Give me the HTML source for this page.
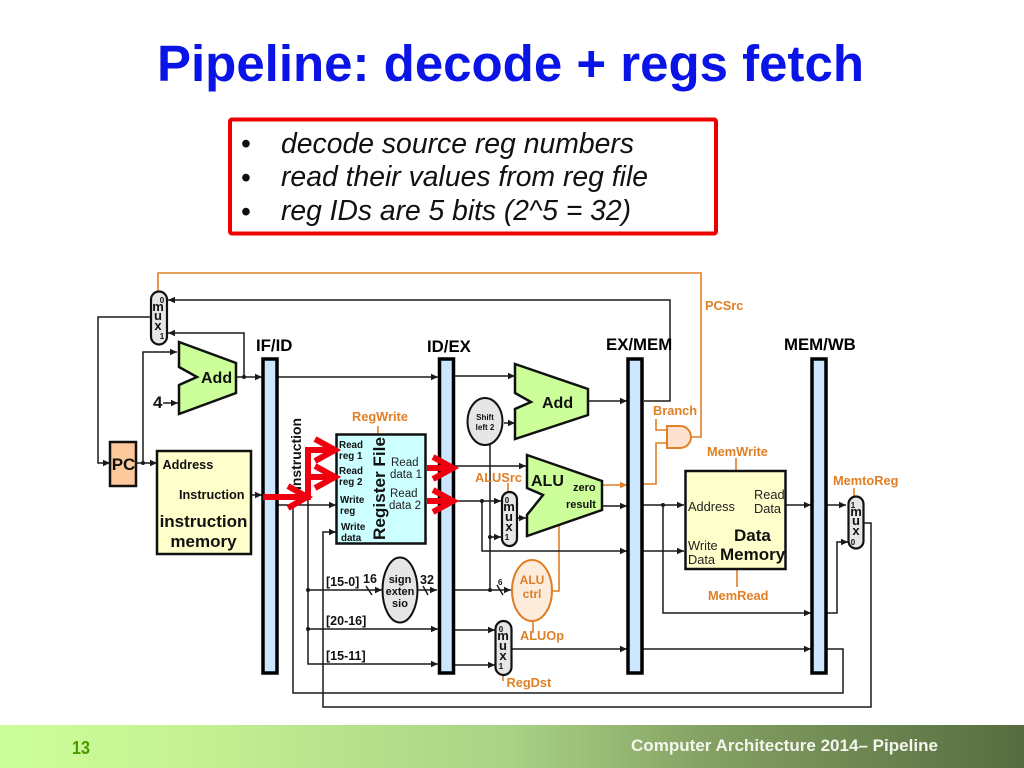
<!DOCTYPE html>
<html><head><meta charset="utf-8"><title>Pipeline: decode + regs fetch</title>
<style>
html,body{margin:0;padding:0;background:#fff}
svg{display:block}
text{font-family:"Liberation Sans",sans-serif}
.b{font-weight:bold}
.k{fill:none;stroke:#1a1a1a;stroke-width:1.5}
.o{fill:none;stroke:#e07f25;stroke-width:1.6}
.ol{fill:#e07f25;font-weight:bold;font-size:12.8px}
.bar{fill:#cce6ff;stroke:#000;stroke-width:3.5}
.box{stroke:#111;stroke-width:2.5}
.red{fill:none;stroke:#f0000e;stroke-width:6}
</style></head>
<body>
<svg width="1024" height="768" viewBox="0 0 1024 768" xmlns="http://www.w3.org/2000/svg">
<defs>
<marker id="a" markerUnits="userSpaceOnUse" markerWidth="8" markerHeight="8" refX="7" refY="4" orient="auto"><path d="M0,0.8L7,4L0,7.2z" fill="#1a1a1a"/></marker>
<marker id="ao" markerUnits="userSpaceOnUse" markerWidth="8" markerHeight="8" refX="7" refY="4" orient="auto"><path d="M0,0.8L7,4L0,7.2z" fill="#e07f25"/></marker>
<linearGradient id="g" x1="0" x2="1" y1="0" y2="0"><stop offset="0" stop-color="#ccff99"/><stop offset=".2" stop-color="#c4f092"/><stop offset=".5" stop-color="#a9d285"/><stop offset=".7" stop-color="#839f62"/><stop offset="1" stop-color="#566c40"/></linearGradient>
</defs>
<rect width="1024" height="768" fill="#fff"/>

<!-- title -->
<text x="157" y="81" class="b" font-size="51" fill="#0a14e6" textLength="707" lengthAdjust="spacingAndGlyphs">Pipeline: decode + regs fetch</text>

<!-- callout -->
<rect x="230" y="119.500" width="486" height="114" fill="#fff" stroke="#ee0000" stroke-width="4" rx="2"/>
<g font-size="28.3" fill="#111">
<text x="241" y="153">•</text><text x="241" y="187">•</text><text x="241" y="221">•</text>
<g font-style="italic">
<text x="281" y="153" textLength="353" lengthAdjust="spacingAndGlyphs">decode source reg numbers</text>
<text x="281" y="186" textLength="367" lengthAdjust="spacingAndGlyphs">read their values from reg file</text>
<text x="281" y="220" textLength="350" lengthAdjust="spacingAndGlyphs">reg IDs are 5 bits (2^5 = 32)</text>
</g></g>

<!-- orange control lines -->
<path class="o" d="M158,291V273H701V437H692"/>
<path class="o" d="M643,484H656V443H667M656,419V430H667"/>
<path class="o" d="M736,458V471M737,569V587M854,488V496M508,483V492M533,621V633M503,675V681M378,426V434"/>
<path class="o" d="M552,591H559V522"/>
<path class="o" d="M602,485H627" marker-end="url(#ao)"/>

<!-- black wires -->
<g class="k">
<path d="M644,401H670V300H168" marker-end="url(#a)"/>
<path d="M150,317H98V463H110" marker-end="url(#a)"/>
<path d="M244,377V333H168" marker-end="url(#a)"/>
<path d="M236,377H262" marker-end="url(#a)"/>
<path d="M278,377H438" marker-end="url(#a)"/>
<path d="M136,463H157" marker-end="url(#a)"/>
<path d="M143,463V352H177" marker-end="url(#a)"/>
<path d="M163,403H178" marker-end="url(#a)"/>
<path d="M251,495H262" marker-end="url(#a)"/>
<path d="M278,505H336" marker-end="url(#a)"/>
<path d="M293,505V693H843V649H827"/>
<path d="M308,497V664H438" marker-end="url(#a)"/>
<path d="M308,590H382" marker-end="url(#a)"/>
<path d="M308,629H438" marker-end="url(#a)"/>
<path d="M864,523H871V707H323V532H336" marker-end="url(#a)"/>
<path d="M418,590H437" marker-end="url(#a)"/>
<path d="M455,376H515" marker-end="url(#a)"/>
<path d="M504,423H515" marker-end="url(#a)"/>
<path d="M588,401H627" marker-end="url(#a)"/>
<path d="M455,466H526" marker-end="url(#a)"/>
<path d="M455,501H501" marker-end="url(#a)"/>
<path d="M482,501V551H627" marker-end="url(#a)"/>
<path d="M490,445V590"/>
<path d="M490,537H501" marker-end="url(#a)"/>
<path d="M517,518H526" marker-end="url(#a)"/>
<path d="M602,506H627" marker-end="url(#a)"/>
<path d="M455,590H511" marker-end="url(#a)"/>
<path d="M455,630H495" marker-end="url(#a)"/>
<path d="M455,665H495" marker-end="url(#a)"/>
<path d="M512,649H627" marker-end="url(#a)"/>
<path d="M643,505H684" marker-end="url(#a)"/>
<path d="M643,551H684" marker-end="url(#a)"/>
<path d="M663,505V613H811" marker-end="url(#a)"/>
<path d="M786,505H811" marker-end="url(#a)"/>
<path d="M643,649H811" marker-end="url(#a)"/>
<path d="M827,505H846" marker-end="url(#a)"/>
<path d="M827,613H837V542H848" marker-end="url(#a)"/>
<path d="M366,586L372,595M423,586L428,595M497,585L503,595"/>
</g>
<g fill="#1a1a1a">
<circle cx="244" cy="377" r="2"/><circle cx="143" cy="463" r="2"/><circle cx="308" cy="497" r="2"/>
<circle cx="308" cy="590" r="2"/><circle cx="308" cy="629" r="2"/><circle cx="482" cy="501" r="2"/>
<circle cx="490" cy="537" r="2"/><circle cx="490" cy="590" r="2"/><circle cx="663" cy="505" r="2"/>
</g>

<!-- pipeline bars -->
<rect class="bar" x="263" y="359" width="14" height="314"/>
<rect class="bar" x="439.500" y="359" width="14" height="314"/>
<rect class="bar" x="628" y="359" width="14" height="314"/>
<rect class="bar" x="812" y="359" width="14" height="314"/>
<g class="b" font-size="16.8" fill="#000">
<text x="256" y="351">IF/ID</text>
<text x="427" y="352">ID/EX</text>
<text x="606" y="350">EX/MEM</text>
<text x="784" y="350">MEM/WB</text>
</g>

<!-- PC mux -->
<rect x="151" y="291.500" width="16" height="53" rx="8" fill="#e6e6e6" stroke="#111" stroke-width="2.2"/>
<g class="b" fill="#111" text-anchor="middle">
<text x="162" y="303" font-size="8">0</text>
<text x="158" y="311" font-size="13">m</text>
<text x="158" y="320" font-size="13">u</text>
<text x="158" y="330" font-size="13">x</text>
<text x="162" y="339" font-size="8">1</text>
</g>

<!-- PC -->
<rect class="box" x="110" y="442" width="26" height="44" fill="#fcc99c"/>
<text x="123.500" y="470" text-anchor="middle" class="b" font-size="17" fill="#111">PC</text>

<!-- Add 1 -->
<path class="box" fill="#ccff99" d="M179,342L236,363V393L179,414V385L197,377L179,367Z"/>
<text x="201" y="383" class="b" font-size="16" fill="#111">Add</text>
<text x="153" y="408" class="b" font-size="17" fill="#111">4</text>

<!-- Instruction memory -->
<rect class="box" x="157" y="451" width="94" height="103" fill="#ffffcc"/>
<g class="b" fill="#111">
<text x="162.500" y="469" font-size="12.7">Address</text>
<text x="179" y="499" font-size="12.7">Instruction</text>
<text x="203.500" y="527" font-size="17" text-anchor="middle">instruction</text>
<text x="203.500" y="547" font-size="17" text-anchor="middle">memory</text>
</g>

<!-- Instruction vertical -->
<text transform="translate(301,490) rotate(-90)" class="b" font-size="14" fill="#111" textLength="72" lengthAdjust="spacingAndGlyphs">Instruction</text>

<!-- Register file -->
<rect class="box" x="336.500" y="434.500" width="89" height="109" fill="#ccffff"/>
<g class="b" fill="#111" font-size="9.800">
<text x="339" y="448">Read</text><text x="339" y="459">reg 1</text>
<text x="339" y="474">Read</text><text x="339" y="485">reg 2</text>
<text x="340" y="503">Write</text><text x="340" y="514">reg</text>
<text x="341" y="530">Write</text><text x="341" y="541">data</text>
</g>
<text transform="translate(385,540) rotate(-90)" class="b" font-size="17" fill="#111" textLength="103" lengthAdjust="spacingAndGlyphs">Register File</text>
<g font-size="11.500" fill="#222">
<text x="391" y="466">Read</text><text x="390" y="478">data 1</text>
<text x="390" y="497">Read</text><text x="389" y="509">data 2</text>
</g>
<text x="352" y="421" class="ol">RegWrite</text>

<!-- red arrows -->
<g class="red">
<path d="M263,497H305M288,486L307,497L288,508"/>
<path d="M308,500V450H334M315,439L335,450L315,461"/>
<path d="M308,477H334M315,466L335,477L315,488"/>
<path d="M427,468H451M433,457L453,468L433,479"/>
<path d="M427,501H451M433,490L453,501L433,512"/>
</g>

<!-- Shift left 2 -->
<ellipse cx="485" cy="421.500" rx="17.500" ry="23.500" fill="#e6e6e6" stroke="#111" stroke-width="2"/>
<g class="b" font-size="8" fill="#111" text-anchor="middle">
<text x="485" y="420">Shift</text><text x="485" y="430">left 2</text>
</g>

<!-- Add 2 -->
<path class="box" fill="#ccff99" d="M515,364L588,389V415L515,439V409L531,402L515,393Z"/>
<text x="542" y="408" class="b" font-size="16" fill="#111">Add</text>

<!-- ALU -->
<path class="box" fill="#ccff99" d="M527,455L602,481V510L527,536V515L543,495L527,488Z"/>
<text x="531" y="486" class="b" font-size="16" fill="#111">ALU</text>
<g class="b" font-size="11" fill="#111">
<text x="573" y="491">zero</text><text x="566" y="508">result</text>
</g>
<text x="475" y="482" class="ol">ALUSrc</text>

<!-- ALUSrc mux -->
<rect x="502" y="492" width="15" height="54" rx="7.500" fill="#e6e6e6" stroke="#111" stroke-width="2.2"/>
<g class="b" fill="#111" text-anchor="middle">
<text x="507" y="503" font-size="8">0</text>
<text x="509" y="511" font-size="13">m</text>
<text x="509" y="521" font-size="13">u</text>
<text x="509" y="531" font-size="13">x</text>
<text x="507" y="540" font-size="8">1</text>
</g>

<!-- sign extension -->
<ellipse cx="400" cy="590" rx="17.500" ry="32.500" fill="#e6e6e6" stroke="#111" stroke-width="2"/>
<g class="b" font-size="11" fill="#111" text-anchor="middle">
<text x="400" y="583">sign</text><text x="400" y="595">exten</text><text x="400" y="607">sio</text>
</g>
<g class="b" fill="#111" font-size="12.500">
<text x="326" y="586">[15-0]</text>
<text x="363" y="583">16</text>
<text x="420" y="584">32</text>
<text x="326" y="625">[20-16]</text>
<text x="326" y="660">[15-11]</text>
<text x="498" y="585" font-size="8">6</text>
</g>

<!-- ALU ctrl -->
<ellipse cx="532" cy="590.500" rx="20" ry="30.500" fill="#fdebdc" stroke="#e07f25" stroke-width="2"/>
<g class="ol" text-anchor="middle" style="font-size:12px">
<text x="532" y="584">ALU</text><text x="532" y="598">ctrl</text>
</g>
<text x="520" y="640" class="ol">ALUOp</text>

<!-- RegDst mux -->
<rect x="495.500" y="621" width="16" height="54" rx="8" fill="#e6e6e6" stroke="#111" stroke-width="2.2"/>
<g class="b" fill="#111" text-anchor="middle">
<text x="501" y="632" font-size="8">0</text>
<text x="503" y="640" font-size="13">m</text>
<text x="503" y="650" font-size="13">u</text>
<text x="503" y="660" font-size="13">x</text>
<text x="501" y="669" font-size="8">1</text>
</g>
<text x="506.500" y="687" class="ol">RegDst</text>

<!-- AND gate -->
<path d="M667,426H680A11,11 0 0 1 680,448H667Z" fill="#fde3cf" stroke="#e07f25" stroke-width="2"/>
<text x="653" y="415" class="ol">Branch</text>
<text x="705" y="310" class="ol">PCSrc</text>

<!-- Data memory -->
<rect class="box" x="685.500" y="471" width="100" height="98" fill="#ffffcc"/>
<g fill="#222" font-size="12.800">
<text x="688" y="511">Address</text>
<text x="754" y="499">Read</text><text x="754" y="513">Data</text>
<text x="688" y="550">Write</text><text x="688" y="564">Data</text>
</g>
<g class="b" fill="#111" font-size="17">
<text x="734" y="541">Data</text><text x="720" y="560">Memory</text>
</g>
<text x="707" y="456" class="ol">MemWrite</text>
<text x="708" y="600" class="ol">MemRead</text>
<text x="833" y="485" class="ol">MemtoReg</text>

<!-- MemtoReg mux -->
<rect x="848.500" y="496.500" width="15" height="52" rx="7.500" fill="#e6e6e6" stroke="#111" stroke-width="2.2"/>
<g class="b" fill="#111" text-anchor="middle">
<text x="853" y="508" font-size="8">1</text>
<text x="856" y="516" font-size="13">m</text>
<text x="856" y="525" font-size="13">u</text>
<text x="856" y="535" font-size="13">x</text>
<text x="853" y="545" font-size="8">0</text>
</g>

<!-- footer -->
<rect x="0" y="725" width="1024" height="43" fill="url(#g)"/>
<text x="72" y="754" class="b" font-size="18" fill="#4d9900" textLength="18" lengthAdjust="spacingAndGlyphs">13</text>
<text x="631" y="751" class="b" font-size="17" fill="#f4f6ee" textLength="307" lengthAdjust="spacingAndGlyphs">Computer Architecture 2014– Pipeline</text>
</svg>
</body></html>
